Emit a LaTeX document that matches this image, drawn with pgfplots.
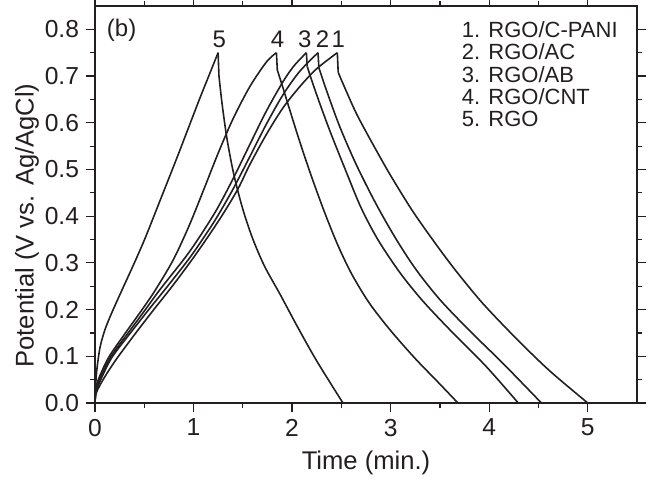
\documentclass[border=0pt]{standalone}
\usepackage{fontspec}
\setmainfont{Liberation Sans}
\usepackage{pgfplots}
\pgfplotsset{compat=1.18}
\definecolor{ink}{HTML}{231F20}
\begin{document}
\begin{tikzpicture}
\begin{axis}[
  scale only axis, width=271bp, height=198.5bp,
  xmin=0, xmax=5.5, ymin=0, ymax=0.85,
  xtick={0,1,2,3,4,5},
  ytick={0,0.1,0.2,0.3,0.4,0.5,0.6,0.7,0.8},
  minor x tick num=1, minor y tick num=1,
  tick align=outside,
  major tick length=4.5bp, minor tick length=2.5bp,
  tick style={line width=0.6pt, color=ink},
  axis line style={line width=0.7pt, color=ink},
  /pgf/number format/assume math mode=true,
  yticklabel style={/pgf/number format/fixed, /pgf/number format/fixed zerofill, /pgf/number format/precision=1},
  ticklabel style={font=\fontsize{12.3bp}{14bp}\selectfont, text=ink},
  xlabel={Time (min.)},
  ylabel={Potential (V vs. Ag/AgCl)},
  every axis x label/.style={at={(axis description cs:0.5,0)}, yshift=-30bp, anchor=center, font=\fontsize{12.8bp}{14bp}\selectfont, text=ink},
  every axis y label/.style={at={(axis description cs:0,0.447)}, xshift=-34bp, rotate=90, anchor=center, font=\fontsize{12.8bp}{14bp}\selectfont, text=ink},
  curve/.style={line width=0.8pt, color=ink, no marks},
]
% Curve 1: RGO/C-PANI
\addplot[curve, smooth, tension=0.5] coordinates {(0,0) (0.01,0.02) (0.05,0.038) (0.12,0.063) (0.221,0.095) (0.407,0.148) (0.593,0.199) (0.78,0.249) (0.978,0.305) (1.15,0.357) (1.30,0.405) (1.45,0.458) (1.57,0.51) (1.739,0.575) (1.908,0.632) (2.077,0.677) (2.246,0.715) (2.459,0.75)};
\addplot[curve] coordinates {(2.459,0.75) (2.468,0.708)};
\addplot[curve, smooth, tension=0.5] coordinates {(2.468,0.708) (2.516,0.684) (2.652,0.62) (2.82,0.554) (3.0,0.487) (3.226,0.41) (3.463,0.339) (3.666,0.282) (3.936,0.213) (4.275,0.138) (4.613,0.069) (5.0,0)};
% Curve 2: RGO/AC
\addplot[curve, smooth, tension=0.5] coordinates {(0,0) (0.008,0.022) (0.052,0.047) (0.17,0.097) (0.356,0.149) (0.542,0.199) (0.71,0.243) (0.944,0.306) (1.09,0.35) (1.232,0.396) (1.401,0.458) (1.57,0.527) (1.739,0.597) (1.908,0.66) (2.077,0.71) (2.263,0.75)};
\addplot[curve] coordinates {(2.263,0.75) (2.272,0.718)};
\addplot[curve, smooth, tension=0.5] coordinates {(2.272,0.718) (2.348,0.67) (2.483,0.592) (2.652,0.51) (2.855,0.425) (3.058,0.35) (3.26,0.285) (3.497,0.222) (3.80,0.155) (4.139,0.085) (4.53,0)};
% Curve 3: RGO/AB
\addplot[curve, smooth, tension=0.5] coordinates {(0,0) (0.008,0.024) (0.04,0.047) (0.154,0.097) (0.333,0.149) (0.508,0.199) (0.66,0.243) (0.91,0.31) (1.05,0.352) (1.232,0.413) (1.401,0.48) (1.57,0.553) (1.739,0.625) (1.908,0.688) (2.02,0.722) (2.145,0.75)};
\addplot[curve] coordinates {(2.145,0.75) (2.154,0.72)};
\addplot[curve, smooth, tension=0.5] coordinates {(2.154,0.72) (2.246,0.662) (2.381,0.584) (2.551,0.494) (2.70,0.418) (2.87,0.35) (3.091,0.28) (3.328,0.218) (3.632,0.15) (3.97,0.078) (4.295,0)};
% Curve 4: RGO/CNT
\addplot[curve, smooth, tension=0.5] coordinates {(0,0) (0.008,0.025) (0.028,0.047) (0.137,0.097) (0.306,0.149) (0.475,0.199) (0.61,0.241) (0.793,0.306) (0.95,0.377) (1.1,0.455) (1.25,0.535) (1.40,0.608) (1.57,0.677) (1.739,0.73) (1.841,0.75)};
\addplot[curve] coordinates {(1.841,0.75) (1.85,0.713)};
\addplot[curve, smooth, tension=0.5] coordinates {(1.85,0.713) (1.90,0.68) (1.98,0.625) (2.08,0.558) (2.20,0.483) (2.33,0.408) (2.46,0.34) (2.60,0.278) (2.78,0.215) (3.0,0.155) (3.25,0.095) (3.47,0.047) (3.683,0)};
% Curve 5: RGO
\addplot[curve, smooth, tension=0.5] coordinates {(0,0) (0.005,0.03) (0.018,0.07) (0.052,0.12) (0.103,0.158) (0.17,0.193) (0.272,0.241) (0.389,0.295) (0.507,0.352) (0.65,0.428) (0.826,0.522) (0.95,0.59) (1.063,0.652) (1.16,0.703) (1.249,0.75)};
\addplot[curve] coordinates {(1.249,0.75) (1.258,0.70)};
\addplot[curve, smooth, tension=0.5] coordinates {(1.258,0.70) (1.29,0.64) (1.34,0.565) (1.41,0.488) (1.50,0.415) (1.60,0.352) (1.72,0.293) (1.88,0.232) (2.05,0.165) (2.25,0.09) (2.516,0)};
% labels
\begin{scope}[every node/.style={font=\fontsize{12bp}{14bp}\selectfont, text=ink, inner sep=0pt}]
\node at (axis cs:1.262,0.779) {5};
\node at (axis cs:1.852,0.779) {4};
\node at (axis cs:2.13,0.779) {3};
\node at (axis cs:2.31,0.779) {2};
\node at (axis cs:2.47,0.779) {1};
\end{scope}
\node[font=\fontsize{12bp}{14bp}\selectfont, text=ink, inner sep=0pt, anchor=west] at (axis cs:0.117,0.797) {(b)};
\begin{scope}[every node/.style={font=\fontsize{11bp}{13bp}\selectfont, text=ink, inner sep=0pt, anchor=west}]
\node at (axis cs:3.72,0.800) {1. RGO/C-PANI};
\node at (axis cs:3.72,0.752) {2. RGO/AC};
\node at (axis cs:3.72,0.704) {3. RGO/AB};
\node at (axis cs:3.72,0.656) {4. RGO/CNT};
\node at (axis cs:3.72,0.608) {5. RGO};
\end{scope}
\end{axis}
\pgfresetboundingbox
\path[use as bounding box] ([shift={(-47.5bp,-39.5bp)}]current axis.south west) rectangle ([shift={(5.5bp,3bp)}]current axis.north east);
\end{tikzpicture}
\end{document}
